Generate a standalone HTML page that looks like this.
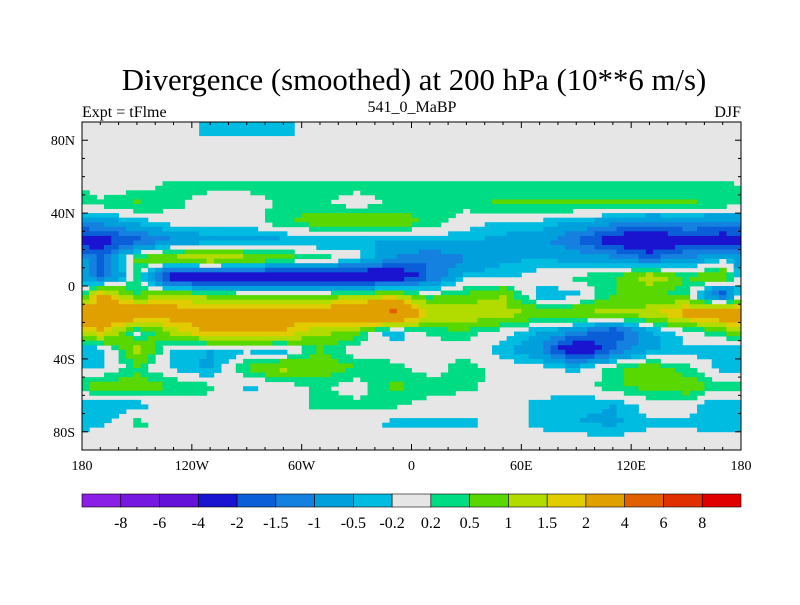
<!DOCTYPE html>
<html><head><meta charset="utf-8"><style>
body{margin:0;background:#fff;width:800px;height:600px;overflow:hidden}
svg text{font-family:"Liberation Serif",serif;fill:#000}
</style></head><body>
<svg id="chart" width="800" height="600" viewBox="0 0 800 600">
<text x="414" y="90" font-size="30.8" text-anchor="middle">Divergence (smoothed) at 200 hPa (10**6 m/s)</text>
<text x="82" y="117" font-size="16">Expt = tFlme</text>
<text x="412" y="112" font-size="16" text-anchor="middle">541_0_MaBP</text>
<text x="741" y="117" font-size="16" text-anchor="end">DJF</text>
<g id="cells"></g>
<g id="axes"></g>
<g id="cbar"></g>
</svg>
<script>
const lats=[85,75,65,55,45,35,25,15,5,-5,-15,-25,-35,-45,-55,-65,-75,-85];
const lons=[-170,-150,-130,-110,-90,-70,-50,-30,-10,10,30,50,70,90,110,130,150,170];
const field=[
[0,0,0,-0.3,-0.3,-0.3,0,0,0,0,0,0,0,0,0,0,0,0],
[0,0,0,0,0,0,0,0,0,0,0,0,0,0,0,0,0,0],
[0,0,0,0,0,0,0,0,0,0,0,0,0,0,0,0,0,0],
[0,0,0.3,0.3,0.3,0.3,0.3,0.3,0.3,0.3,0.3,0.3,0.3,0.3,0.3,0.3,0.3,0.3],
[0.3,0.6,0.3,0,0,0.3,0.3,0,0.3,0.3,0.3,0.6,0.6,0.6,0.6,0.6,0.6,0.4],
[-0.8,-0.4,0,0,0,0.4,0.8,0.8,0.8,0.4,0,-0.3,-0.3,-0.5,-0.8,-1.2,-1,-1.2],
[-2.5,-1.7,-1,-0.7,-0.7,-0.6,-0.6,-0.5,-0.5,-0.4,-0.5,-0.6,-0.8,-1.5,-2.5,-3,-2.2,-2.5],
[-1.5,0.6,1.2,1.6,1.2,0.8,0.4,0,-1,-1.5,-1,-0.6,-0.5,-0.7,-0.8,-1.5,-1,-0.3],
[-1.8,0.3,-3,-3,-3,-3,-3,-3,-3,-1.5,-0.3,-0.3,0,0.3,0.4,1.5,0.5,1],
[2.2,0.5,1.2,0.8,0.6,0.6,0.6,0.8,1.2,0.3,0.6,1,-0.5,-0.3,0.5,0.5,0.3,-2],
[3,3,2.5,2.3,2.3,2.3,2.5,3.5,4.5,1.5,1.6,1.2,1,1,1.2,1.3,2.3,3],
[2,0,1.2,2.2,2.2,2,1.2,0.7,-0.5,0.3,0.4,0,-0.5,-1,-2,-0.6,0,0.5],
[-0.5,1.2,-0.3,-0.5,-0.3,-0.5,0.5,0,0,0,0,-0.4,-1,-3,-1.5,-0.6,-0.3,-0.5],
[-0.3,0.4,-0.3,-0.6,0.5,1.2,0.8,0.5,0.3,0,0.4,0,0,-0.3,0.4,0.8,0.3,-0.3],
[0.8,0.8,0.5,0.3,-0.3,0,0.3,0,0.6,0.4,0.3,0,0,0,0.4,0.7,0.8,0.3],
[-0.5,-0.4,0,0,0,0,0.3,0.3,0.3,0,0,0,-0.3,-0.4,-0.5,0,0,-0.5],
[-0.3,0.3,0,0,0,0,0,0,-0.3,-0.3,-0.3,0,-0.3,-0.5,-0.6,-0.3,-0.3,-0.4],
[0,0,0,0,0,0,0,0,0,0,0,0,0,0,0,0,0,0]
];
const levels=[-8,-6,-4,-2,-1.5,-1,-0.5,-0.2,0.2,0.5,1,1.5,2,4,6,8];
const levelLabels=["-8","-6","-4","-2","-1.5","-1","-0.5","-0.2","0.2","0.5","1","1.5","2","4","6","8"];
const palette=["#8a20e6","#7618e0","#6412d8","#1a14d0","#0a5ed8","#1480e0","#00a0dc","#00bce0","#e6e6e6","#00dc84","#58d800","#b2dc00","#e0cc00","#e0a000","#e06000","#e03000","#e00000"];
const latTicks=[80,40,0,-40,-80];
const latLabels=["80N","40N","0","40S","80S"];
const lonTicks=[-180,-120,-60,0,60,120,180];
const lonLabels=["180","120W","60W","0","60E","120E","180"];
const X0=82,X1=741,Y0=122,Y1=450;
const xs=lon=>X0+(lon+180)/360*(X1-X0);
const ys=lat=>Y0+(90-lat)/180*(Y1-Y0);
const NS="http://www.w3.org/2000/svg";
function colorFor(v){let i=0;while(i<levels.length&&v>=levels[i])i++;return palette[i];}
function sample(lon,lat){
 const nc=lons.length,nr=lats.length;
 let fc=(lon-lons[0])/20; let c0=Math.floor(fc); const tc=fc-c0;
 const ca=((c0%nc)+nc)%nc, cb=(((c0+1)%nc)+nc)%nc;
 let fr=(lats[0]-lat)/10; fr=Math.max(0,Math.min(nr-1,fr));
 const r0=Math.min(nr-2,Math.floor(fr)); const tr=fr-r0;
 const a=field[r0][ca]*(1-tc)+field[r0][cb]*tc;
 const b=field[r0+1][ca]*(1-tc)+field[r0+1][cb]*tc;
 return a*(1-tr)+b*tr;
}
const cells=document.getElementById('cells');
const bg=document.createElementNS(NS,'rect');


bg.setAttribute('x',X0);bg.setAttribute('y',Y0);bg.setAttribute('width',X1-X0);bg.setAttribute('height',Y1-Y0);bg.setAttribute('fill','#e6e6e6');
cells.appendChild(bg);
const DL=4,DT=2.5;
for(let lat=90;lat>-90;lat-=DT){
 for(let lon=-180;lon<180;lon+=DL){
  const v=sample(lon+DL/2,lat-DT/2);
  const col=colorFor(v);
  if(col==="#e6e6e6")continue;
  const rc=document.createElementNS(NS,'rect');
  
  
  const xa=xs(lon),xb=xs(lon+DL),ya=ys(lat),yb=ys(lat-DT);
  rc.setAttribute('x',xa.toFixed(2));rc.setAttribute('y',ya.toFixed(2));
  rc.setAttribute('width',(xb-xa+0.4).toFixed(2));rc.setAttribute('height',(yb-ya+0.4).toFixed(2));
  rc.setAttribute('fill',col);
  cells.appendChild(rc);
 }
}
const axes=document.getElementById('axes');
function line(x1,y1,x2,y2,name){const l=document.createElementNS(NS,'line');
 
 
 l.setAttribute('x1',x1);l.setAttribute('y1',y1);l.setAttribute('x2',x2);l.setAttribute('y2',y2);l.setAttribute('stroke','#000');l.setAttribute('stroke-width','1');axes.appendChild(l);}
function text(x,y,s,anchor,size,name){const t=document.createElementNS(NS,'text');
 
 
 t.setAttribute('x',x);t.setAttribute('y',y);t.setAttribute('text-anchor',anchor);t.setAttribute('font-size',size);t.textContent=s;return t;}
const fr=document.createElementNS(NS,'rect');


fr.setAttribute('x',X0);fr.setAttribute('y',Y0);fr.setAttribute('width',X1-X0);fr.setAttribute('height',Y1-Y0);fr.setAttribute('fill','none');fr.setAttribute('stroke','#000');
axes.appendChild(fr);
for(let lon=-180;lon<=180;lon+=10){const maj=lon%60===0;const L=maj?6:3;
 line(xs(lon),Y1,xs(lon),Y1-L,'x-tick');line(xs(lon),Y0,xs(lon),Y0+L,'x-tick');}
for(let lat=-90;lat<=90;lat+=10){const maj=lat%40===0;const L=maj?6:3;
 line(X0,ys(lat),X0+L,ys(lat),'y-tick');line(X1,ys(lat),X1-L,ys(lat),'y-tick');}
lonTicks.forEach((v,i)=>axes.appendChild(text(xs(v),470,lonLabels[i],'middle',14,'x-tick-label')));
latTicks.forEach((v,i)=>axes.appendChild(text(75,ys(v)+5,latLabels[i],'end',14,'y-tick-label')));
const cb=document.getElementById('cbar');
const CX0=82,CX1=741,CY=494,CH=13,n=palette.length,w=(CX1-CX0)/n;
palette.forEach((col,i)=>{const r=document.createElementNS(NS,'rect');
 
 
 r.setAttribute('x',CX0+i*w);r.setAttribute('y',CY);r.setAttribute('width',w);r.setAttribute('height',CH);r.setAttribute('fill',col);r.setAttribute('stroke','#000');r.setAttribute('stroke-width','0.6');cb.appendChild(r);});
levelLabels.forEach((s,i)=>cb.appendChild(text(CX0+(i+1)*w,528,s,'middle',16,'colorbar-label')));
</script>
</body></html>
